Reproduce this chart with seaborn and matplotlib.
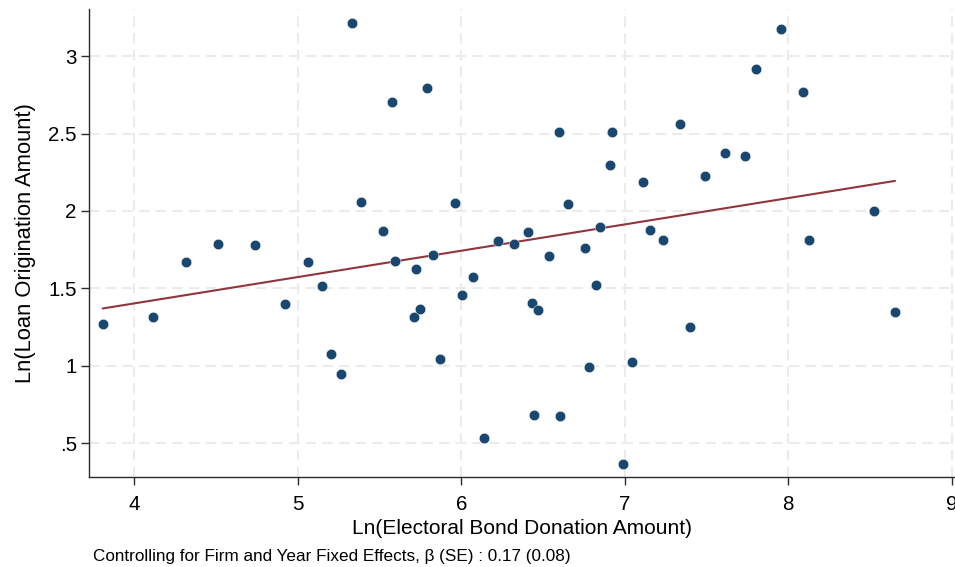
import matplotlib
matplotlib.use("Agg")
import matplotlib.pyplot as plt
import numpy as np
import pandas as pd
import seaborn as sns

# Binned means: log electoral bond donations vs. log loan origination
donation_ln = [3.807, 4.113, 4.316, 4.514, 4.736, 4.920, 5.064, 5.148, 5.205, 5.264,
               5.330, 5.387, 5.523, 5.576, 5.596, 5.711, 5.723, 5.749, 5.790, 5.825,
               5.868, 5.961, 6.006, 6.072, 6.137, 6.224, 6.320, 6.408, 6.432, 6.445,
               6.471, 6.536, 6.596, 6.602, 6.651, 6.757, 6.783, 6.824, 6.850, 6.909,
               6.924, 6.987, 7.042, 7.113, 7.156, 7.234, 7.336, 7.397, 7.491, 7.613,
               7.733, 7.800, 7.955, 8.092, 8.128, 8.524, 8.653]
loan_ln = [1.272, 1.313, 1.673, 1.789, 1.783, 1.397, 1.670, 1.518, 1.076, 0.946,
           3.215, 2.058, 1.871, 2.705, 1.675, 1.313, 1.623, 1.365, 2.791, 1.714,
           1.046, 2.050, 1.457, 1.576, 0.537, 1.804, 1.785, 1.862, 1.403, 0.681,
           1.358, 1.707, 2.509, 0.675, 2.048, 1.763, 0.990, 1.522, 1.895, 2.297,
           2.509, 0.367, 1.022, 2.188, 1.877, 1.813, 2.560, 1.250, 2.224, 2.373,
           2.352, 2.914, 3.175, 2.767, 1.811, 2.000, 1.347]

# Fitted line: slope from the FE regression, intercept of the plotted fit
beta = 0.17
se = 0.08
intercept = 0.723

x_ticks = [4, 5, 6, 7, 8, 9]
x_tick_labels = ["4", "5", "6", "7", "8", "9"]
y_ticks = [0.5, 1.0, 1.5, 2.0, 2.5, 3.0]
y_tick_labels = [".5", "1", "1.5", "2", "2.5", "3"]

df = pd.DataFrame({"donation": donation_ln, "loan": loan_ln})
x_fit = np.array([min(donation_ln), max(donation_ln)])
fit = pd.DataFrame({"donation": x_fit, "loan": intercept + beta * x_fit})

sns.set_theme(style="white")
plt.rcParams["font.family"] = ["Liberation Sans", "DejaVu Sans"]

W, H = 955, 567
fig = plt.figure(figsize=(W / 100, H / 100), dpi=100)
ax = fig.add_axes([89.3 / W, 90.3 / H, (W - 89.3) / W, (476.7 - 9.3) / H])

navy = "#1a476f"
maroon = "#90353b"

sns.scatterplot(data=df, x="donation", y="loan", ax=ax, color=navy, s=56,
                edgecolor="white", linewidth=0.3, zorder=3)
sns.lineplot(data=fit, x="donation", y="loan", ax=ax, color=maroon,
             linewidth=1.5, zorder=2)

ax.set_xlim(3.725, 9.02)
ax.set_ylim(0.284, 3.302)
ax.set_xticks(x_ticks)
ax.set_xticklabels(x_tick_labels)
ax.set_yticks(y_ticks)
ax.set_yticklabels(y_tick_labels)

ax.grid(True, color="#ebebeb", linewidth=1.5, linestyle=(0, (5, 3)))
ax.set_axisbelow(True)

for side in ["top", "right"]:
    ax.spines[side].set_visible(False)
for side in ["left", "bottom"]:
    ax.spines[side].set_color("#2b2b2b")
    ax.spines[side].set_linewidth(1.0)

ax.tick_params(axis="both", which="major", direction="out", length=6, width=1.0,
               color="#2b2b2b", labelsize=14.8, labelcolor="black")
ax.tick_params(axis="x", pad=7.5, bottom=True)
ax.tick_params(axis="y", pad=3, left=True)

ax.set_xlabel("Ln(Electoral Bond Donation Amount)", fontsize=15, labelpad=3.5, color="black")
ax.set_ylabel("Ln(Loan Origination Amount)", fontsize=15.8, labelpad=9, color="black")

fig.text(93 / W, 1 - 561 / H,
         f"Controlling for Firm and Year Fixed Effects, β (SE) : {beta:.2f} ({se:.2f})",
         fontsize=12.3, ha="left", va="baseline", color="black")

fig.savefig("out.png", dpi=100, facecolor="white")
